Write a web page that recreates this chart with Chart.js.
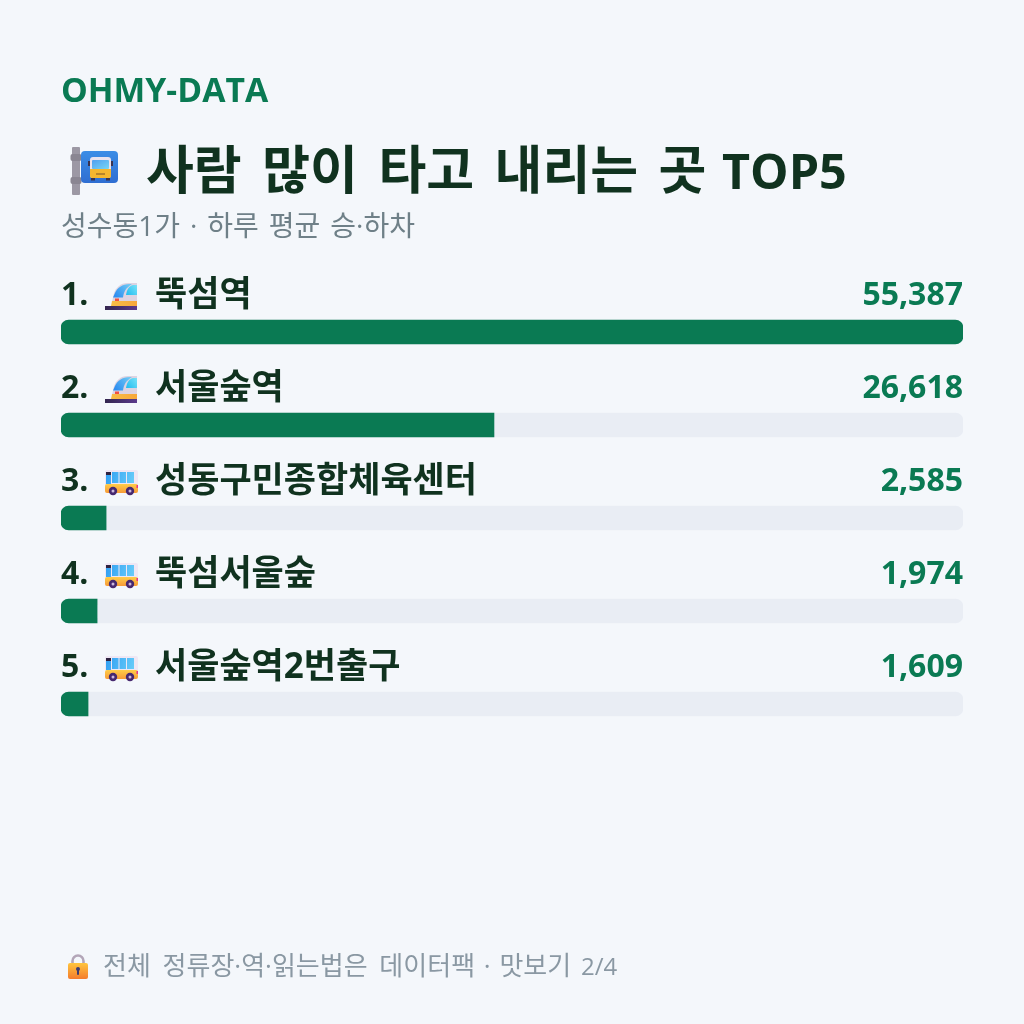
<!DOCTYPE html>
<html lang="ko"><head><meta charset="utf-8">
<style>
html,body{margin:0;padding:0;background:#f4f7fb}
body{width:1024px;height:1024px;position:relative;overflow:hidden;font-family:"Open Sans","Noto Sans CJK KR",sans-serif}
canvas{position:absolute;left:0;top:0}
svg{position:absolute}
.t{position:absolute;left:61px;white-space:pre;line-height:1}
#brand{top:73px;font-size:33.7px;font-weight:700;color:#0a7a53}
#title{top:143px;font-size:52px;font-weight:700;color:#10321f;left:146px;word-spacing:7px}
#title span{font-size:48.5px;margin-left:-5px}
#sub{top:211px;font-size:28px;color:#6f8088;word-spacing:2.7px}
#foot{top:952px;left:103px;font-size:26px;color:#8a98a3;word-spacing:5px}
#foot .dot{word-spacing:2px}
#foot .page{font-size:24px;margin-left:-2px}
</style></head><body>
<canvas id="c" width="1024" height="1024"></canvas>
<div class="t" id="brand">OHMY-DATA</div>
<svg style="left:68px;top:144px" width="54" height="54" viewBox="0 0 54 54" role="img" aria-label="버스 정류장">
  <defs>
    <linearGradient id="sign" x1="0" y1="0" x2="0" y2="1"><stop offset="0" stop-color="#3b8de6"/><stop offset="1" stop-color="#2f6ed2"/></linearGradient>
    <linearGradient id="glass" x1="0" y1="0" x2="1" y2="1"><stop offset="0" stop-color="#4f9ff0"/><stop offset="1" stop-color="#78d6f5"/></linearGradient>
  </defs>
  <rect x="4" y="3" width="8" height="48" rx="1" fill="#9c98a4"/>
  <rect x="2.5" y="10" width="11" height="7" rx="2" fill="#8a8692"/>
  <rect x="2.5" y="33" width="11" height="7" rx="2" fill="#8a8692"/>
  <rect x="13" y="7" width="37" height="32" rx="4" fill="url(#sign)"/>
  <rect x="22" y="13" width="21" height="21" rx="3" fill="#e8e2ee"/>
  <rect x="24" y="16" width="17" height="9" rx="1" fill="url(#glass)"/>
  <path d="M22 25H43V32Q43 34 41 34H24Q22 34 22 32Z" fill="#f5b62f"/>
  <rect x="28" y="29" width="9" height="2" fill="#b8842a"/>
  <rect x="20" y="17" width="2" height="5" fill="#3a3350"/><rect x="43" y="17" width="2" height="5" fill="#3a3350"/>
  <rect x="23" y="34" width="4" height="2.5" fill="#3a3350"/><rect x="38" y="34" width="4" height="2.5" fill="#3a3350"/>
</svg>
<div class="t" id="title">사람 많이 타고 내리는 곳 <span>TOP5</span></div>
<div class="t" id="sub">성수동1가 · 하루 평균 승·하차</div>
<svg style="left:66px;top:953px" width="24" height="28" viewBox="0 0 24 28" role="img" aria-label="자물쇠">
  <defs><linearGradient id="lockBody" x1="0" y1="0" x2="0" y2="1"><stop offset="0" stop-color="#ffc53d"/><stop offset="1" stop-color="#f47b2c"/></linearGradient></defs>
  <path d="M6.5 11V8a5.5 5.5 0 0 1 11 0V11" fill="none" stroke="#b3a6b8" stroke-width="2.6"/>
  <rect x="2" y="10" width="20" height="16" rx="2" fill="url(#lockBody)"/>
  <circle cx="12" cy="16" r="2" fill="#3c3a70"/><rect x="11" y="16" width="2" height="6" rx="1" fill="#3c3a70"/>
</svg>
<div class="t" id="foot">전체 정류장·역·읽는법은 데이터팩<span class="dot"> · </span>맛보기 <span class="page">2/4</span></div>
<script src="https://cdn.jsdelivr.net/npm/chart.js@4/dist/chart.umd.js"></script>
<script>
const stations = ["뚝섬역","서울숲역","성동구민종합체육센터","뚝섬서울숲","서울숲역2번출구"];
const riders = [55387,26618,2585,1974,1609];
const modes = ["train","train","bus","bus","bus"];
const percents = riders.map(v => Math.round(v / riders[0] * 100));
const track = riders.map(() => 100);

const linear = (ctx, x0, y0, x1, y1, a, b) => {
  const g = ctx.createLinearGradient(x0, y0, x1, y1);
  g.addColorStop(0, a); g.addColorStop(1, b);
  return g;
};

// Small high-speed train icon; (x, y) is its top-left corner.
function drawTrain(ctx, x, y) {
  ctx.save(); ctx.translate(x, y);
  ctx.fillStyle = linear(ctx, 1, 0, 33, 0, "#33264f", "#5b3a8c");
  ctx.fillRect(1, 24, 32, 4);
  ctx.fillStyle = "#dcd3e2";
  ctx.fill(new Path2D("M33 1L24 1C16 1 12 6 10 11L8 20L33 20Z"));
  ctx.fillStyle = linear(ctx, 0, 20, 33, 20, "#f8c34a", "#f7a73a");
  ctx.fill(new Path2D("M8 19L33 19L33 24L7 24Z"));
  ctx.fillStyle = linear(ctx, 12, 14, 26, 3, "#2f8ff0", "#6cc9f5");
  ctx.fill(new Path2D("M26 2C18 2 13 6 11 11L9 15.5L19 15.5C20 9 22 6 28 2Z"));
  ctx.fillStyle = linear(ctx, 22, 12, 33, 3, "#22bdf0", "#78e2f8");
  ctx.fill(new Path2D("M33 3L29 3C25 4 23 7 22 13L33 13Z"));
  ctx.fillStyle = "#f2503f";
  ctx.fillRect(11, 16.5, 4, 2.5);
  ctx.restore();
}

// Small city bus icon; (x, y) is its top-left corner.
function drawBus(ctx, x, y) {
  ctx.save(); ctx.translate(x, y);
  ctx.fillStyle = "#efe7f4";
  ctx.beginPath(); ctx.roundRect(0, 0, 33, 16, 2); ctx.fill();
  ctx.fillStyle = linear(ctx, 0, 14, 0, 23, "#ffcd48", "#f79a38");
  ctx.beginPath(); ctx.roundRect(0, 14, 33, 9, 2); ctx.fill();
  ctx.fillStyle = linear(ctx, 0, 2, 33, 12, "#2f9df2", "#6fd2fa");
  ctx.fillRect(7, 2, 6.5, 11); ctx.fillRect(14.5, 2, 6.5, 11); ctx.fillRect(22, 2, 7, 11);
  ctx.fillRect(1, 2, 5, 12);
  ctx.fillStyle = "#2e2340";
  ctx.fillRect(1, 2, 5, 3);
  ctx.fillStyle = "#e8358a";
  ctx.fillRect(31.5, 15, 1.5, 3);
  for (const cx of [8, 25]) {
    ctx.fillStyle = "#46286f";
    ctx.beginPath(); ctx.arc(cx, 21, 4.2, 0, Math.PI * 2); ctx.fill();
    ctx.fillStyle = "#cbb7dc";
    ctx.beginPath(); ctx.arc(cx, 21, 1.5, 0, Math.PI * 2); ctx.fill();
  }
  ctx.restore();
}

// Writes rank, icon, station name and rider count above each bar.
const rowLabels = {
  id: "rowLabels",
  afterDatasetsDraw(chart) {
    const { ctx, scales: { x, y } } = chart;
    const left = x.getPixelForValue(0), right = x.getPixelForValue(100);
    ctx.save();
    ctx.textBaseline = "alphabetic";
    stations.forEach((name, i) => {
      const base = y.getPixelForValue(i) - 27;
      ctx.font = '700 32px "Open Sans","Noto Sans CJK KR",sans-serif';
      ctx.textAlign = "left";
      ctx.fillStyle = "#10321f";
      ctx.fillText((i + 1) + ".", left, base);
      if (modes[i] === "train") drawTrain(ctx, 104, base - 23);
      else drawBus(ctx, 105, base - 21);
      ctx.font = '700 35px "Open Sans","Noto Sans CJK KR",sans-serif';
      ctx.fillText(name, 155, base + 1);
      ctx.font = '700 32px "Open Sans","Noto Sans CJK KR",sans-serif';
      ctx.textAlign = "right";
      ctx.fillStyle = "#0a7a53";
      ctx.fillText(riders[i].toLocaleString("en-US"), right, base);
    });
    ctx.restore();
  }
};

new Chart(document.getElementById("c"), {
  type: "bar",
  data: { labels: stations, datasets: [
    { data: percents, backgroundColor: "#0a7a53", order: 0, grouped: false, barThickness: 24,
      borderRadius: c => c.raw >= 100 ? 8 : { topLeft: 8, bottomLeft: 8, topRight: 0, bottomRight: 0 },
      borderSkipped: false },
    { data: track, backgroundColor: "#e9edf4", order: 1, grouped: false, barThickness: 24,
      borderRadius: 8, borderSkipped: false }
  ] },
  options: { indexAxis: "y", responsive: false, animation: false,
    layout: { padding: { left: 61, right: 61, top: 285.5, bottom: 273.5 } },
    plugins: { legend: { display: false }, tooltip: { enabled: false } },
    scales: { x: { display: false, min: 0, max: 100 }, y: { display: false } } },
  plugins: [rowLabels]
});
</script></body></html>
